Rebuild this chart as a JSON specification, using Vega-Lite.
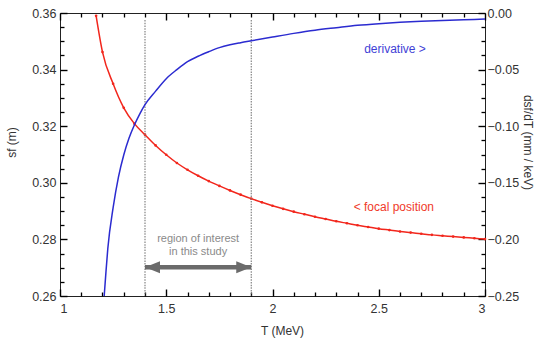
{
  "$schema": "https://vega.github.io/schema/vega-lite/v6.json",
  "width": 425,
  "height": 283,
  "autosize": {"type": "none"},
  "padding": {"left": 60, "top": 13, "right": 52, "bottom": 45},
  "config": {
    "view": {"stroke": "#222"},
    "axis": {"domain": false, "grid": false, "labelFont": "Liberation Sans", "titleFont": "Liberation Sans", "labelFontSize": 12.5, "titleFontSize": 12, "titleFontWeight": "normal", "labelColor": "#333", "titleColor": "#333"}
  },
  "data": {"values": [
      {"T": 1.17, "s": 0.3590}, {"T": 1.20, "s": 0.3462}, {"T": 1.25, "s": 0.3350}, {"T": 1.30, "s": 0.3265},
      {"T": 1.35, "s": 0.3209}, {"T": 1.40, "s": 0.3170}, {"T": 1.45, "s": 0.3132}, {"T": 1.50, "s": 0.3099},
      {"T": 1.55, "s": 0.3070}, {"T": 1.60, "s": 0.3046}, {"T": 1.65, "s": 0.3025}, {"T": 1.70, "s": 0.3006},
      {"T": 1.75, "s": 0.2989}, {"T": 1.80, "s": 0.2973}, {"T": 1.85, "s": 0.2958}, {"T": 1.90, "s": 0.2944},
      {"T": 1.95, "s": 0.2931}, {"T": 2.00, "s": 0.2919}, {"T": 2.05, "s": 0.2908}, {"T": 2.10, "s": 0.2898},
      {"T": 2.15, "s": 0.2889}, {"T": 2.20, "s": 0.2880}, {"T": 2.25, "s": 0.2872}, {"T": 2.30, "s": 0.2864},
      {"T": 2.35, "s": 0.2857}, {"T": 2.40, "s": 0.2850}, {"T": 2.45, "s": 0.2844}, {"T": 2.50, "s": 0.2838},
      {"T": 2.55, "s": 0.2833}, {"T": 2.60, "s": 0.2828}, {"T": 2.65, "s": 0.2824}, {"T": 2.70, "s": 0.2820},
      {"T": 2.75, "s": 0.2816}, {"T": 2.80, "s": 0.2813}, {"T": 2.85, "s": 0.2810}, {"T": 2.90, "s": 0.2807},
      {"T": 2.95, "s": 0.2804}, {"T": 3.00, "s": 0.2801}
  ]},
  "resolve": {"scale": {"y": "independent"}},
  "layer": [
    {
      "mark": {"type": "line", "color": "#f2261c", "strokeWidth": 1.5, "interpolate": "monotone"},
      "encoding": {
        "x": {"field": "T", "type": "quantitative", "scale": {"domain": [1, 3], "nice": false, "zero": false},
          "axis": {"orient": "bottom", "values": [1, 1.5, 2, 2.5, 3], "format": "~g", "tickSize": -7, "tickColor": "#000", "tickWidth": 1.4, "labelPadding": 13, "title": "T  (MeV)", "titlePadding": 11, "titleX": 222}},
        "y": {"field": "s", "type": "quantitative", "scale": {"domain": [0.26, 0.36], "nice": false, "zero": false, "clamp": true},
          "axis": {"orient": "left", "values": [0.26, 0.28, 0.30, 0.32, 0.34, 0.36], "format": ".2f", "tickSize": -7, "tickColor": "#000", "tickWidth": 1.4, "labelPadding": 11, "title": "sf  (m)", "titlePadding": 13, "titleY": 129}}
      }
    },
    {
      "mark": {"type": "point", "filled": true, "color": "#f2261c", "size": 7, "opacity": 1},
      "encoding": {
        "x": {"field": "T", "type": "quantitative", "scale": {"domain": [1, 3], "nice": false, "zero": false},
          "axis": {"orient": "top", "values": [1, 1.5, 2, 2.5, 3], "tickSize": -7, "tickColor": "#000", "tickWidth": 1.4, "labels": false, "title": null}},
        "y": {"field": "s", "type": "quantitative", "scale": {"domain": [0.26, 0.36], "nice": false, "zero": false, "clamp": true},
          "axis": {"orient": "left", "values": [0.265, 0.27, 0.275, 0.285, 0.29, 0.295, 0.305, 0.31, 0.315, 0.325, 0.33, 0.335, 0.345, 0.35, 0.355], "tickSize": -4, "tickColor": "#000", "tickWidth": 1.3, "labels": false, "title": null}}
      }
    },
    {
      "data": {"values": [{"T": 1.4}, {"T": 1.9}]},
      "mark": {"type": "rule", "color": "#777", "strokeWidth": 1.1, "strokeDash": [1.5, 1.2]},
      "encoding": {
        "x": {"field": "T", "type": "quantitative", "scale": {"domain": [1, 3], "nice": false, "zero": false},
          "axis": {"orient": "bottom", "values": [1.1, 1.2, 1.3, 1.4, 1.6, 1.7, 1.8, 1.9, 2.1, 2.2, 2.3, 2.4, 2.6, 2.7, 2.8, 2.9], "tickSize": -4, "tickColor": "#000", "tickWidth": 1.3, "labels": false, "title": null}},
        "y": {"datum": 0.3575, "type": "quantitative", "scale": {"domain": [0.26, 0.36], "nice": false, "zero": false}, "axis": null},
        "y2": {"datum": 0.26}
      }
    },
    {
      "data": {"values": [{"T0": 1.4, "T1": 1.9, "arrow": 0.2702}]},
      "mark": {"type": "rule", "color": "#6b6b6b", "strokeWidth": 4.5},
      "encoding": {
        "x": {"field": "T0", "type": "quantitative", "scale": {"domain": [1, 3], "nice": false, "zero": false},
          "axis": {"orient": "top", "values": [1.1, 1.2, 1.3, 1.4, 1.6, 1.7, 1.8, 1.9, 2.1, 2.2, 2.3, 2.4, 2.6, 2.7, 2.8, 2.9], "tickSize": -4, "tickColor": "#000", "tickWidth": 1.3, "labels": false, "title": null}},
        "x2": {"field": "T1"},
        "y": {"field": "arrow", "type": "quantitative", "scale": {"domain": [0.26, 0.36], "nice": false, "zero": false}, "axis": null}
      }
    },
    {
      "data": {"values": [{"T0": 1.4, "arrow": 0.2702}]},
      "mark": {"type": "point", "filled": true, "color": "#6b6b6b", "opacity": 1, "size": 225, "shape": "M-1,0L1,-0.8L1,0.8Z", "xOffset": 7.5},
      "encoding": {
        "x": {"field": "T0", "type": "quantitative", "axis": null},
        "y": {"field": "arrow", "type": "quantitative", "scale": {"domain": [0.26, 0.36], "nice": false, "zero": false}, "axis": null}
      }
    },
    {
      "data": {"values": [{"T1": 1.9, "arrow": 0.2702}]},
      "mark": {"type": "point", "filled": true, "color": "#6b6b6b", "opacity": 1, "size": 225, "shape": "M1,0L-1,-0.8L-1,0.8Z", "xOffset": -7.5},
      "encoding": {
        "x": {"field": "T1", "type": "quantitative", "axis": null},
        "y": {"field": "arrow", "type": "quantitative", "scale": {"domain": [0.26, 0.36], "nice": false, "zero": false}, "axis": null}
      }
    },
    {
      "data": {"values": [{"Tmid": 1.65, "textPos": 0.2803, "label": "region of interest\nin this study"}]},
      "mark": {"type": "text", "color": "#8a8a8a", "fontSize": 11, "font": "Liberation Sans", "lineBreak": "\n", "lineHeight": 13, "align": "center", "baseline": "middle"},
      "encoding": {
        "x": {"field": "Tmid", "type": "quantitative", "axis": null},
        "y": {"field": "textPos", "type": "quantitative", "scale": {"domain": [0.26, 0.36], "nice": false, "zero": false}, "axis": null},
        "text": {"field": "label"}
      }
    },
    {
      "data": {"values": [{"T": 2.571, "s": 0.2913, "label": "< focal position"}]},
      "mark": {"type": "text", "color": "#f03a2a", "fontSize": 12, "font": "Liberation Sans", "align": "center", "baseline": "middle"},
      "encoding": {
        "x": {"field": "T", "type": "quantitative", "axis": null},
        "y": {"field": "s", "type": "quantitative", "scale": {"domain": [0.26, 0.36], "nice": false, "zero": false}, "axis": null},
        "text": {"field": "label"}
      }
    },
    {
      "data": {"values": [
        {"T": 1.208, "d": -0.252}, {"T": 1.215, "d": -0.232}, {"T": 1.225, "d": -0.208}, {"T": 1.25, "d": -0.172},
        {"T": 1.275, "d": -0.145}, {"T": 1.30, "d": -0.1255}, {"T": 1.325, "d": -0.1105}, {"T": 1.35, "d": -0.0990},
        {"T": 1.375, "d": -0.0893}, {"T": 1.40, "d": -0.0810}, {"T": 1.45, "d": -0.0690}, {"T": 1.50, "d": -0.0580},
        {"T": 1.55, "d": -0.0500}, {"T": 1.60, "d": -0.0430}, {"T": 1.65, "d": -0.0382}, {"T": 1.70, "d": -0.0342},
        {"T": 1.75, "d": -0.0306}, {"T": 1.80, "d": -0.0281}, {"T": 1.85, "d": -0.0262}, {"T": 1.90, "d": -0.0245},
        {"T": 2.00, "d": -0.0212}, {"T": 2.10, "d": -0.0180}, {"T": 2.20, "d": -0.0152}, {"T": 2.30, "d": -0.0130},
        {"T": 2.40, "d": -0.0109}, {"T": 2.50, "d": -0.0094}, {"T": 2.60, "d": -0.0082}, {"T": 2.70, "d": -0.0073},
        {"T": 2.80, "d": -0.0066}, {"T": 2.90, "d": -0.0060}, {"T": 3.00, "d": -0.0054}
      ]},
      "mark": {"type": "line", "color": "#2b2bd0", "strokeWidth": 1.5, "interpolate": "monotone"},
      "encoding": {
        "x": {"field": "T", "type": "quantitative", "axis": null},
        "y": {"field": "d", "type": "quantitative", "scale": {"domain": [-0.25, 0], "nice": false, "zero": false, "clamp": true},
          "axis": {"orient": "right", "values": [0, -0.05, -0.1, -0.15, -0.2, -0.25], "format": ".2f", "tickSize": -7, "tickColor": "#000", "tickWidth": 1.4, "labelPadding": 9, "title": "dsf/dT  (mm / keV)", "titleAngle": 90, "titlePadding": 2, "titleY": 129}}
      }
    },
    {
      "data": {"values": [{"T": 2.5765, "d": -0.0321, "label": "derivative >"}]},
      "mark": {"type": "text", "color": "#3f3fd6", "fontSize": 12, "font": "Liberation Sans", "align": "center", "baseline": "middle"},
      "encoding": {
        "x": {"field": "T", "type": "quantitative", "axis": null},
        "y": {"field": "d", "type": "quantitative", "scale": {"domain": [-0.25, 0], "nice": false, "zero": false},
          "axis": {"orient": "right", "values": [-0.0125, -0.025, -0.0375, -0.0625, -0.075, -0.0875, -0.1125, -0.125, -0.1375, -0.1625, -0.175, -0.1875, -0.2125, -0.225, -0.2375], "tickSize": -4, "tickColor": "#000", "tickWidth": 1.3, "labels": false, "title": null}},
        "text": {"field": "label"}
      }
    }
  ]
}
